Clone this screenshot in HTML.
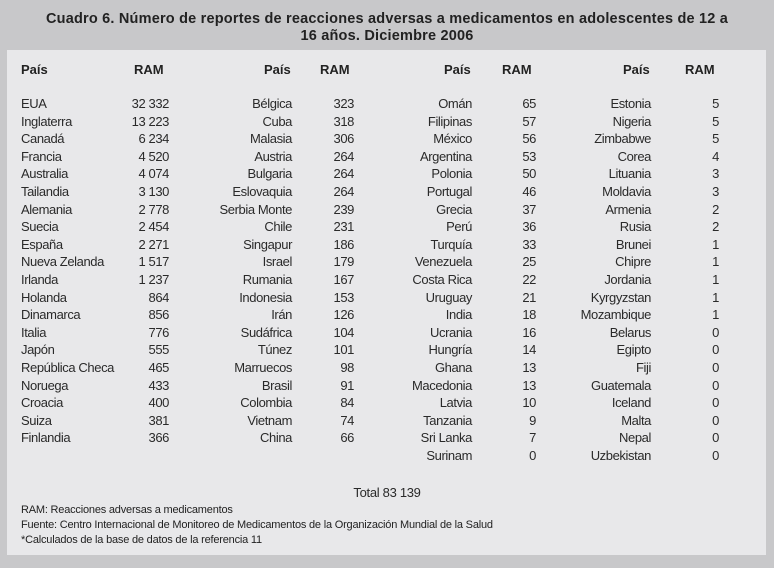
<!DOCTYPE html>
<html><head><meta charset="utf-8"><style>
body{margin:0;width:774px;height:568px;background:#c8c8ca;position:relative;overflow:hidden;font-family:"Liberation Sans",sans-serif;color:#2a2a2a}
.t{position:absolute;left:0;width:774px;text-align:center;font-family:"Liberation Sans",sans-serif;font-weight:bold;font-size:14.5px;letter-spacing:0.2px;color:#222}
.panel{position:absolute;left:7px;top:50px;width:759px;height:505px;background:#e8e8ea}
.c{position:absolute;top:95px;font-size:13px;line-height:17.6px;white-space:nowrap;letter-spacing:-0.4px}
.l{text-align:left}.r{text-align:right}
.h{position:absolute;top:62px;font-weight:bold;font-size:13px;color:#222}
.f{position:absolute;left:21px;font-size:11px;color:#222;letter-spacing:-0.2px}
</style></head><body>
<div class="t" style="top:11px">Cuadro 6. Número de reportes de reacciones adversas a medicamentos en adolescentes de 12 a</div>
<div class="t" style="top:28px">16 años. Diciembre 2006</div>
<div class="panel"></div>
<div class="h" style="left:21px">País</div>
<div class="h" style="left:134px">RAM</div>
<div class="h" style="left:264px">País</div>
<div class="h" style="left:320px">RAM</div>
<div class="h" style="left:444px">País</div>
<div class="h" style="left:502px">RAM</div>
<div class="h" style="left:623px">País</div>
<div class="h" style="left:685px">RAM</div>

<div class="c l" style="left:21px">EUA<br>Inglaterra<br>Canadá<br>Francia<br>Australia<br>Tailandia<br>Alemania<br>Suecia<br>España<br>Nueva Zelanda<br>Irlanda<br>Holanda<br>Dinamarca<br>Italia<br>Japón<br>República Checa<br>Noruega<br>Croacia<br>Suiza<br>Finlandia</div>
<div class="c r" style="right:605px">32 332<br>13 223<br>6 234<br>4 520<br>4 074<br>3 130<br>2 778<br>2 454<br>2 271<br>1 517<br>1 237<br>864<br>856<br>776<br>555<br>465<br>433<br>400<br>381<br>366</div>
<div class="c r" style="right:482px">Bélgica<br>Cuba<br>Malasia<br>Austria<br>Bulgaria<br>Eslovaquia<br>Serbia Monte<br>Chile<br>Singapur<br>Israel<br>Rumania<br>Indonesia<br>Irán<br>Sudáfrica<br>Túnez<br>Marruecos<br>Brasil<br>Colombia<br>Vietnam<br>China</div>
<div class="c r" style="right:420px">323<br>318<br>306<br>264<br>264<br>264<br>239<br>231<br>186<br>179<br>167<br>153<br>126<br>104<br>101<br>98<br>91<br>84<br>74<br>66</div>
<div class="c r" style="right:302px">Omán<br>Filipinas<br>México<br>Argentina<br>Polonia<br>Portugal<br>Grecia<br>Perú<br>Turquía<br>Venezuela<br>Costa Rica<br>Uruguay<br>India<br>Ucrania<br>Hungría<br>Ghana<br>Macedonia<br>Latvia<br>Tanzania<br>Sri Lanka<br>Surinam</div>
<div class="c r" style="right:238px">65<br>57<br>56<br>53<br>50<br>46<br>37<br>36<br>33<br>25<br>22<br>21<br>18<br>16<br>14<br>13<br>13<br>10<br>9<br>7<br>0</div>
<div class="c r" style="right:123px">Estonia<br>Nigeria<br>Zimbabwe<br>Corea<br>Lituania<br>Moldavia<br>Armenia<br>Rusia<br>Brunei<br>Chipre<br>Jordania<br>Kyrgyzstan<br>Mozambique<br>Belarus<br>Egipto<br>Fiji<br>Guatemala<br>Iceland<br>Malta<br>Nepal<br>Uzbekistan</div>
<div class="c r" style="right:55px">5<br>5<br>5<br>4<br>3<br>3<br>2<br>2<br>1<br>1<br>1<br>1<br>1<br>0<br>0<br>0<br>0<br>0<br>0<br>0<br>0</div>

<div style="position:absolute;left:0;width:774px;text-align:center;top:485px;font-size:13px;letter-spacing:-0.3px">Total 83 139</div>
<div class="f" style="top:504px">RAM: Reacciones adversas a medicamentos</div>
<div class="f" style="top:519px">Fuente: Centro Internacional de Monitoreo de Medicamentos de la Organización Mundial de la Salud</div>
<div class="f" style="top:534px">*Calculados de la base de datos de la referencia 11</div>
</body></html>
